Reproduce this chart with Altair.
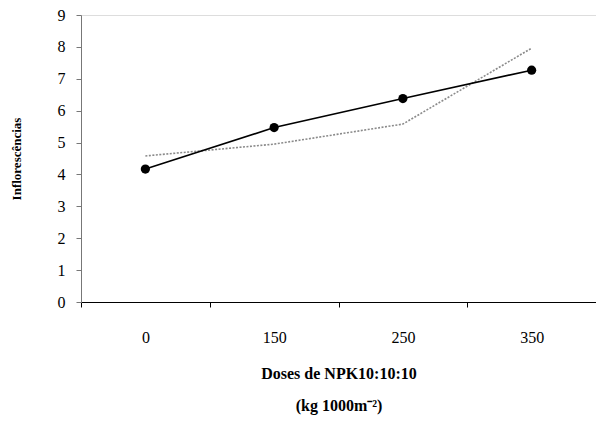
import altair as alt
import pandas as pd

doses = ["0", "150", "250", "350"]
observed = [4.17, 5.47, 6.38, 7.27]
trend = [4.58, 4.95, 5.58, 7.96]

df = pd.DataFrame({"dose": doses, "obs": observed, "trend": trend})

xenc = alt.X("dose:O", sort=doses,
             scale=alt.Scale(paddingInner=0, paddingOuter=0),
             axis=alt.Axis(title=["Doses de NPK10:10:10", "(kg 1000m⁻²)"],
                           labelAngle=0, tickBand="extent", domainColor="black",
                           tickColor="black", tickSize=5, labelPadding=22,
                           labelFont="Liberation Serif", labelFontSize=16,
                           labelColor="black",
                           titleFont="Liberation Serif", titleFontSize=16,
                           titleFontWeight="bold", titleColor="black",
                           titleLineHeight=32, titlePadding=20))

yscale = alt.Scale(domain=[0, 9], nice=False)
yaxis = alt.Axis(title="Inflorescências", values=list(range(10)), grid=False,
                 domainColor="#777777", tickColor="#777777", tickSize=5,
                 labelPadding=11, labelFont="Liberation Serif", labelFontSize=16,
                 labelColor="black", titleFont="Liberation Serif",
                 titleFontSize=13, titleFontWeight="bold", titleColor="black",
                 titlePadding=34)

base = alt.Chart(df)

trend_line = base.mark_line(color="#8a8a8a", strokeDash=[2, 1.5], strokeWidth=1.6).encode(
    x=xenc, y=alt.Y("trend:Q", scale=yscale, axis=yaxis))
obs_line = base.mark_line(color="black", strokeWidth=1.6).encode(
    x=xenc, y=alt.Y("obs:Q", scale=yscale, axis=yaxis))
obs_pts = base.mark_point(color="black", filled=True, opacity=1, size=85).encode(
    x=xenc, y=alt.Y("obs:Q", scale=yscale, axis=yaxis))

chart = alt.layer(trend_line, obs_line, obs_pts).properties(
    width=515, height=287,
    autosize=alt.AutoSizeParams(type="none"),
    padding={"left": 73, "top": 7, "right": 0, "bottom": 114},
).configure_view(stroke=None).configure(background="white")

chart.save("out.html", embed_options={"renderer": "svg", "actions": False})
